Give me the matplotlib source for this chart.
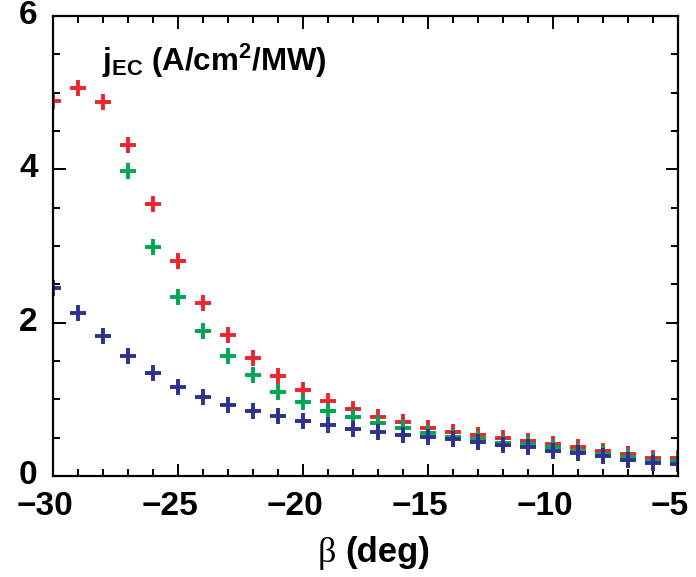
import matplotlib
matplotlib.use("Agg")
import matplotlib.pyplot as plt
from matplotlib.ticker import MultipleLocator
from matplotlib.transforms import ScaledTranslation
from matplotlib import font_manager

# ---- data -------------------------------------------------------------
beta = list(range(-30, -4))  # -30 ... -5 deg

j_red = [4.89, 5.06, 4.88, 4.32, 3.55, 2.80, 2.26, 1.84, 1.54, 1.30,
         1.12, 0.98, 0.87, 0.77, 0.70, 0.63, 0.58, 0.53, 0.50, 0.46,
         0.42, 0.38, 0.33, 0.29, 0.24, 0.24]

beta_green = list(range(-27, -4))
j_green = [3.98, 2.99, 2.33, 1.89, 1.56, 1.32, 1.10, 0.96, 0.85, 0.77,
           0.69, 0.62, 0.56, 0.51, 0.48, 0.43, 0.42, 0.38, 0.33, 0.29,
           0.25, 0.20, 0.20]

j_blue = [2.45, 2.12, 1.83, 1.56, 1.34, 1.16, 1.03, 0.93, 0.85, 0.78,
          0.72, 0.66, 0.61, 0.58, 0.54, 0.51, 0.48, 0.44, 0.41, 0.38,
          0.33, 0.30, 0.26, 0.21, 0.17, 0.16]

x_ticks = [-30, -25, -20, -15, -10, -5]
y_ticks = [0, 2, 4, 6]

# ---- style ------------------------------------------------------------
installed = {f.name for f in font_manager.fontManager.ttflist}
family = ["Liberation Sans Narrow", "Liberation Sans", "DejaVu Sans"]
family = [f for f in family if f in installed] or ["DejaVu Sans"]
plt.rcParams["font.family"] = family
plt.rcParams["font.weight"] = "bold"
plt.rcParams["mathtext.fontset"] = "custom"
plt.rcParams["mathtext.rm"] = f"{family[0]}:bold"
plt.rcParams["mathtext.it"] = f"{family[0]}:bold"
plt.rcParams["mathtext.bf"] = f"{family[0]}:bold"

RED = "#e8262f"
GREEN = "#00a651"
BLUE = "#2e3192"

fig = plt.figure(figsize=(6.96, 5.77), dpi=100)
ax = fig.add_axes([53 / 696, 101 / 577, 625 / 696, 460 / 577])

mk = dict(marker="+", linestyle="none", markersize=11.5, markeredgewidth=2.8,
          clip_on=True)
ax.plot(beta, j_red, color=RED, **mk)
ax.plot(beta_green, j_green, color=GREEN, **mk)
ax.plot(beta, j_blue, color=BLUE, **mk)

ax.set_xlim(-30, -5)
ax.set_ylim(0, 6)
ax.set_xticks(x_ticks)
ax.set_xticklabels([f"\u2212{abs(v)}" for v in x_ticks])
ax.set_yticks(y_ticks)
ax.set_yticklabels([str(v) for v in y_ticks])
ax.xaxis.set_minor_locator(MultipleLocator(1))
ax.yaxis.set_minor_locator(MultipleLocator(0.5))

for s in ax.spines.values():
    s.set_linewidth(1.6)
ax.tick_params(which="both", direction="in", top=True, right=True,
               width=1.4, labelsize=24)
ax.tick_params(which="major", length=9)
ax.tick_params(which="minor", length=5)
ax.tick_params(axis="x", which="major", pad=11)
ax.tick_params(axis="y", which="major", pad=11)

# digits centred on the tick, minus sign hanging to the left
for lab in ax.get_xticklabels():
    lab.set_transform(lab.get_transform()
                      + ScaledTranslation(-8 / 100, 0, fig.dpi_scale_trans))
for lab in ax.get_yticklabels():
    lab.set_transform(lab.get_transform()
                      + ScaledTranslation(0, 4 / 100, fig.dpi_scale_trans))

# axis label: upright beta, bold unit
ax.text(0.453, -0.187, "\u03b2", transform=ax.transAxes, fontsize=26,
        fontweight="normal", family=["Liberation Serif", "DejaVu Serif"],
        ha="right", va="baseline")
ax.text(0.468, -0.187, "(deg)", transform=ax.transAxes, fontsize=25,
        fontweight="bold", ha="left", va="baseline")

ax.text(0.078, 0.945, r"$\mathrm{j_{EC}}$ (A/cm$^{\mathrm{2}}$/MW)",
        transform=ax.transAxes, fontsize=22.5, fontweight="bold",
        ha="left", va="top")

fig.savefig("out.png", dpi=100)
